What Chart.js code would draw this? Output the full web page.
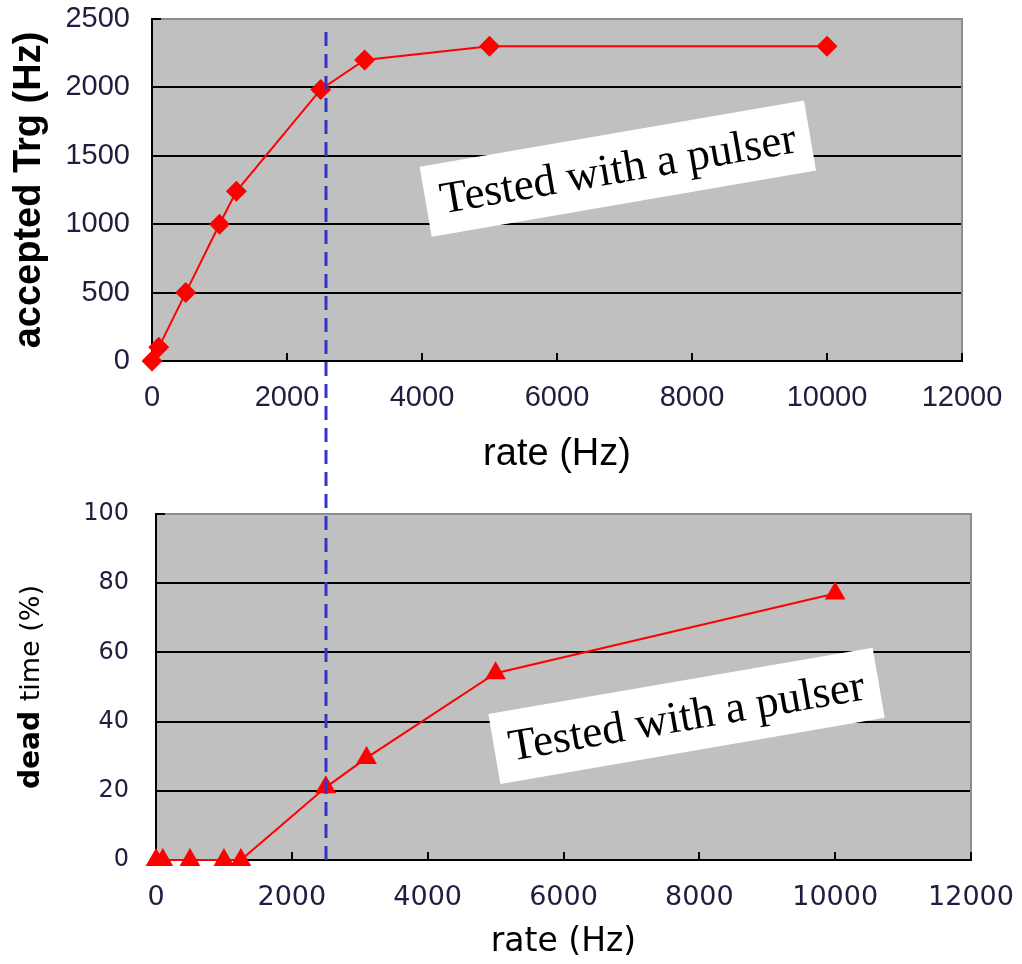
<!DOCTYPE html>
<html>
<head>
<meta charset="utf-8">
<title>accepted trigger / dead time vs rate</title>
<script src="https://cdn.jsdelivr.net/npm/chart.js@4.4.1/dist/chart.umd.min.js"></script>
<style>
  html, body { margin: 0; padding: 0; background: #fff; }
  #wrap { position: relative; width: 1022px; height: 964px; }
  #wrap canvas { position: absolute; left: 0; top: 0; }
</style>
</head>
<body>
<div id="wrap">
  <canvas id="trgChart" width="1022" height="480"></canvas>
  <canvas id="deadChart" width="1022" height="964"></canvas>
</div>
<script>
// ===== values =====
const trgRate = [0, 100, 500, 1000, 1250, 2500, 3150, 5000, 10000];
const trgAccepted = [0, 100, 500, 1000, 1240, 1985, 2200, 2300, 2300];

const deadRate = [0, 100, 500, 1000, 1250, 2500, 3100, 5000, 10000];
const deadTime = [0, 0, 0, 0, 0, 21, 29.5, 54, 77];

const rateTicks = [0, 2000, 4000, 6000, 8000, 10000, 12000];
const trgTicks = [0, 500, 1000, 1500, 2000, 2500];
const deadTicks = [0, 20, 40, 60, 80, 100];

const cutRate = 2500; // blue dashed marker
const noteText = "Tested with a pulser";
const trgNote = [6900, 1410];
const deadNote = [7810, 41.8];

const tickColor = "#1e1e40";
const arial = "'Liberation Sans', Arial, sans-serif";
const dejavu = "'DejaVu Sans', Verdana, sans-serif";

const toPoints = (xs, ys) => xs.map((x, i) => ({ x, y: ys[i] }));
const setTicks = (vals) => (s) => { s.ticks = vals.map((v) => ({ value: v })); };
const plain = (v) => String(v);
const gridColor = (vals) => (c) =>
  c.tick && c.tick.value === vals[vals.length - 1] ? "rgba(0,0,0,0)" : "#000";

// ------------ grey plot area, frame, inward tick marks ----------------
const plotFrame = {
  id: "plotFrame",
  beforeDraw(chart) {
    const { ctx, chartArea: a } = chart;
    ctx.save();
    ctx.fillStyle = "#c0c0c0";
    ctx.fillRect(a.left, a.top, a.right - a.left, a.bottom - a.top);
    ctx.restore();
  },
  beforeDatasetsDraw(chart) {
    const { ctx, chartArea: a, scales } = chart;
    ctx.save();
    ctx.strokeStyle = "#8c8c8c";
    ctx.lineWidth = 2;
    ctx.beginPath();
    ctx.moveTo(a.left, a.top);
    ctx.lineTo(a.right, a.top);
    ctx.lineTo(a.right, a.bottom);
    ctx.stroke();

    ctx.strokeStyle = "#000";
    ctx.beginPath();
    scales.x.ticks.forEach((t) => {
      const px = Math.round(scales.x.getPixelForValue(t.value));
      ctx.moveTo(px, a.bottom);
      ctx.lineTo(px, a.bottom - 8);
    });
    scales.y.ticks.forEach((t) => {
      const py = Math.round(scales.y.getPixelForValue(t.value));
      ctx.moveTo(a.left, py);
      ctx.lineTo(a.left + 9, py);
    });
    ctx.stroke();
    ctx.restore();
  },
};

// ------------ rotated white label box ----------------
const note = {
  id: "note",
  afterDatasetsDraw(chart, args, opts) {
    if (!opts.at) return;
    const { ctx, scales: { x, y } } = chart;
    ctx.save();
    ctx.translate(x.getPixelForValue(opts.at[0]), y.getPixelForValue(opts.at[1]));
    ctx.rotate((-9.8 * Math.PI) / 180);
    ctx.fillStyle = "#fff";
    ctx.fillRect(-195, -35, 390, 71);
    ctx.fillStyle = "#000";
    ctx.font = "45px 'Liberation Serif', 'Times New Roman', serif";
    ctx.textAlign = "center";
    ctx.textBaseline = "middle";
    ctx.fillText(noteText, 0, 3);
    ctx.restore();
  },
};

// tick gap is made with invisible tick marks, so it does not widen the layout padding
const hiddenTicks = (len) => ({ drawTicks: true, tickLength: len, tickColor: "rgba(0,0,0,0)" });

// ===== top: accepted trigger =====
const trgChart = new Chart(document.getElementById("trgChart"), {
  type: "scatter",
  data: {
    datasets: [
      {
        data: toPoints(trgRate, trgAccepted),
        showLine: true,
        borderColor: "#ff0000",
        borderWidth: 2,
        backgroundColor: "#ff0000",
        pointStyle: "rectRot",
        pointRadius: 10.5,
        pointBorderWidth: 0,
        clip: false,
      },
    ],
  },
  options: {
    responsive: false,
    animation: false,
    layout: { padding: { top: 19, right: 60, bottom: 0, left: 0 } },
    plugins: {
      legend: { display: false },
      tooltip: { enabled: false },
      note: { at: trgNote },
    },
    scales: {
      x: {
        type: "linear",
        min: rateTicks[0],
        max: rateTicks[rateTicks.length - 1],
        afterBuildTicks: setTicks(rateTicks),
        afterFit: (s) => { s.height = 119; },
        grid: { drawOnChartArea: false, ...hiddenTicks(20) },
        border: { color: "#000", width: 2 },
        ticks: { padding: 0, callback: plain, color: tickColor, font: { family: arial, size: 29 }, maxRotation: 0, autoSkip: false },
        title: { display: true, text: "rate (Hz)", color: "#000", font: { family: arial, size: 38 }, padding: { top: 0, bottom: 3 } },
      },
      y: {
        min: trgTicks[0],
        max: trgTicks[trgTicks.length - 1],
        afterBuildTicks: setTicks(trgTicks),
        afterFit: (s) => { s.width = 152; },
        grid: { color: gridColor(trgTicks), lineWidth: 2, ...hiddenTicks(22) },
        border: { color: "#000", width: 2 },
        ticks: { padding: 0, callback: plain, color: tickColor, font: { family: arial, size: 29 } },
        title: { display: true, text: "accepted Trg (Hz)", color: "#000", font: { family: arial, size: 38, weight: "bold" }, padding: { top: 7, bottom: 0 } },
      },
    },
  },
  plugins: [plotFrame, note],
});

// ------------ "dead time (%)" with bold first word ----------------
const deadTitle = {
  id: "deadTitle",
  afterDraw(chart) {
    const { ctx, chartArea: a } = chart;
    const bold = "bold 28px " + dejavu;
    const normal = "27px " + dejavu;
    ctx.save();
    ctx.translate(chart.scales.y.left + 32, (a.top + a.bottom) / 2);
    ctx.rotate(-Math.PI / 2);
    ctx.font = bold;
    const w1 = ctx.measureText("dead ").width;
    ctx.font = normal;
    const w2 = ctx.measureText("time (%)").width;
    const x0 = -(w1 + w2) / 2;
    ctx.fillStyle = "#000";
    ctx.textBaseline = "middle";
    ctx.font = bold;
    ctx.fillText("dead ", x0, 0);
    ctx.font = normal;
    ctx.fillText("time (%)", x0 + w1, 0);
    ctx.restore();
  },
};

// ------------ dashed marker through both panels ----------------
const cutLine = {
  id: "cutLine",
  afterDraw(chart) {
    const { ctx, chartArea: a, scales: { x } } = chart;
    const px = Math.round(x.getPixelForValue(cutRate));
    ctx.save();
    ctx.strokeStyle = "#3434cc";
    ctx.lineWidth = 3;
    ctx.setLineDash([14, 8]);
    ctx.beginPath();
    ctx.moveTo(px, a.bottom);
    ctx.lineTo(px, trgChart.chartArea.top + 5);
    ctx.stroke();
    ctx.restore();
  },
};

// ===== bottom: dead time =====
new Chart(document.getElementById("deadChart"), {
  type: "scatter",
  data: {
    datasets: [
      {
        data: toPoints(deadRate, deadTime),
        showLine: true,
        borderColor: "#ff0000",
        borderWidth: 2,
        backgroundColor: "#ff0000",
        pointStyle: "triangle",
        pointRadius: 12,
        pointBorderWidth: 0,
        clip: false,
      },
    ],
  },
  options: {
    responsive: false,
    animation: false,
    layout: { padding: { top: 514, right: 51, bottom: 0, left: 0 } },
    plugins: {
      legend: { display: false },
      tooltip: { enabled: false },
      note: { at: deadNote },
    },
    scales: {
      x: {
        type: "linear",
        min: rateTicks[0],
        max: rateTicks[rateTicks.length - 1],
        afterBuildTicks: setTicks(rateTicks),
        afterFit: (s) => { s.height = 104; },
        grid: { drawOnChartArea: false, ...hiddenTicks(22) },
        border: { color: "#000", width: 2 },
        ticks: { padding: 0, callback: plain, color: tickColor, font: { family: dejavu, size: 27 }, maxRotation: 0, autoSkip: false },
        title: { display: true, text: "rate (Hz)", color: "#000", font: { family: dejavu, size: 33 }, padding: { top: 0, bottom: 2 } },
      },
      y: {
        min: deadTicks[0],
        max: deadTicks[deadTicks.length - 1],
        afterBuildTicks: setTicks(deadTicks),
        afterFit: (s) => { s.width = 156; },
        grid: { color: gridColor(deadTicks), lineWidth: 2, ...hiddenTicks(27) },
        border: { color: "#000", width: 2 },
        ticks: { padding: 0, callback: plain, color: tickColor, font: { family: dejavu, size: 24 } },
      },
    },
  },
  plugins: [plotFrame, note, deadTitle, cutLine],
});
</script>
</body>
</html>
